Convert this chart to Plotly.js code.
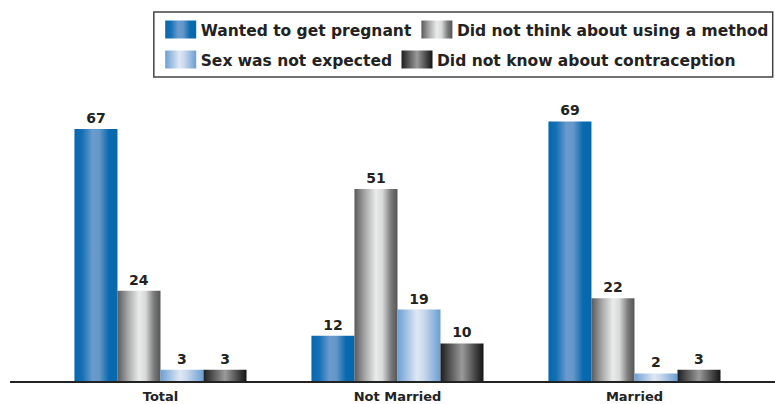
<!DOCTYPE html>
<html><head><meta charset="utf-8">
<script src="https://cdn.plot.ly/plotly-3.0.1.min.js"></script>
<style>html,body{margin:0;padding:0;background:#fff}#chart{width:775px;height:404px}</style>
</head><body><div id="chart"></div>
<script>
const categories = ['Total', 'Not Married', 'Married'];
const seriesNames = ['Wanted to get pregnant', 'Did not think about using a method', 'Sex was not expected', 'Did not know about contraception'];
const wantedPregnant = [67, 12, 69];
const didNotThink = [24, 51, 22];
const sexNotExpected = [3, 19, 2];
const didNotKnow = [3, 10, 3];
const seriesValues = [wantedPregnant, didNotThink, sexNotExpected, didNotKnow];
const legendOf = ['legend', 'legend', 'legend2', 'legend2'];

const baseColors = ['#0a6cb0', '#8a8a8a', '#8fb3dd', '#444444'];
const gradients = [
  [[0, '#0567ae'], [0.18, '#1670b4'], [0.42, '#6a9bcc'], [0.58, '#6496c9'], [0.8, '#0a6aaf'], [1, '#0567ae']],
  [[0, '#5a5a5a'], [0.25, '#a9a9a9'], [0.5, '#eaebeb'], [0.65, '#d8d9d9'], [0.85, '#7a7a7a'], [1, '#555555']],
  [[0, '#6c9fd4'], [0.45, '#dfe7f3'], [0.6, '#ccdaed'], [1, '#6a9ed3']],
  [[0, '#1e1e1e'], [0.5, '#9a9a9a'], [0.85, '#3a3a3a'], [1, '#151515']]
];

const traces = seriesNames.map((name, i) => ({
  type: 'bar',
  name: name,
  x: categories,
  y: seriesValues[i],
  text: seriesValues[i].map(String),
  textposition: 'outside',
  textfont: {family: 'DejaVu Sans', size: 14, weight: 'bold', color: '#222'},
  cliponaxis: false,
  marker: {color: baseColors[i], line: {width: 0}},
  legend: legendOf[i],
  hoverinfo: 'skip'
}));

const legendBase = {
  orientation: 'h', xanchor: 'left', yanchor: 'middle',
  font: {family: 'DejaVu Sans', size: 15.5, weight: 'bold', color: '#222'},
  bgcolor: 'rgba(0,0,0,0)', borderwidth: 0
};

const layout = {
  width: 775, height: 404,
  margin: {l: 10, r: 0, t: 80, b: 23, pad: 0, autoexpand: false},
  paper_bgcolor: '#ffffff', plot_bgcolor: '#ffffff',
  barmode: 'group', bargap: 0.274, bargroupgap: 0,
  font: {family: 'DejaVu Sans', color: '#222'},
  showlegend: true,
  xaxis: {
    type: 'category', range: [-0.635, 2.593], automargin: false,
    showline: true, linecolor: '#222', linewidth: 2,
    showgrid: false, zeroline: false, ticks: '', ticklabelstandoff: 2,
    tickfont: {family: 'DejaVu Sans', size: 13, weight: 'bold', color: '#222'}
  },
  yaxis: {range: [0, 80], visible: false, showgrid: false, zeroline: false, automargin: false},
  legend: Object.assign({}, legendBase, {x: 0.197, y: 1.166}),
  legend2: Object.assign({}, legendBase, {x: 0.197, y: 1.0664}),
  shapes: [{
    type: 'rect', xref: 'paper', yref: 'paper',
    x0: 0.188, x1: 0.997, y0: 1.01, y1: 1.226,
    line: {color: '#444', width: 1.5}, fillcolor: 'rgba(0,0,0,0)', layer: 'below'
  }]
};

Plotly.newPlot('chart', traces, layout, {staticPlot: true, displayModeBar: false}).then(gd => {
  const ns = 'http://www.w3.org/2000/svg';
  const svg = gd.querySelector('svg.main-svg');
  let defs = svg.querySelector('defs');
  if (!defs) { defs = document.createElementNS(ns, 'defs'); svg.insertBefore(defs, svg.firstChild); }
  gradients.forEach((stops, i) => {
    const lg = document.createElementNS(ns, 'linearGradient');
    lg.setAttribute('id', 'barGrad' + i);
    lg.setAttribute('x1', '0'); lg.setAttribute('y1', '0');
    lg.setAttribute('x2', '1'); lg.setAttribute('y2', '0');
    stops.forEach(([o, c]) => {
      const s = document.createElementNS(ns, 'stop');
      s.setAttribute('offset', o);
      s.setAttribute('stop-color', c);
      lg.appendChild(s);
    });
    defs.appendChild(lg);
  });
  gd.querySelectorAll('.barlayer .trace').forEach(tr => {
    const idx = tr.__data__[0].trace.index;
    tr.querySelectorAll('.point path').forEach(p => { p.style.fill = 'url(#barGrad' + idx + ')'; });
  });
  gd.querySelectorAll('g.traces').forEach(tr => {
    const idx = tr.__data__[0].trace.index;
    tr.querySelectorAll('.legendpoints path').forEach(p => {
      p.setAttribute('d', 'M15.5,9H-15.5V-9H15.5Z');
      p.style.fill = 'url(#barGrad' + idx + ')';
      p.style.strokeWidth = '0';
    });
  });
});
</script>
</body></html>
